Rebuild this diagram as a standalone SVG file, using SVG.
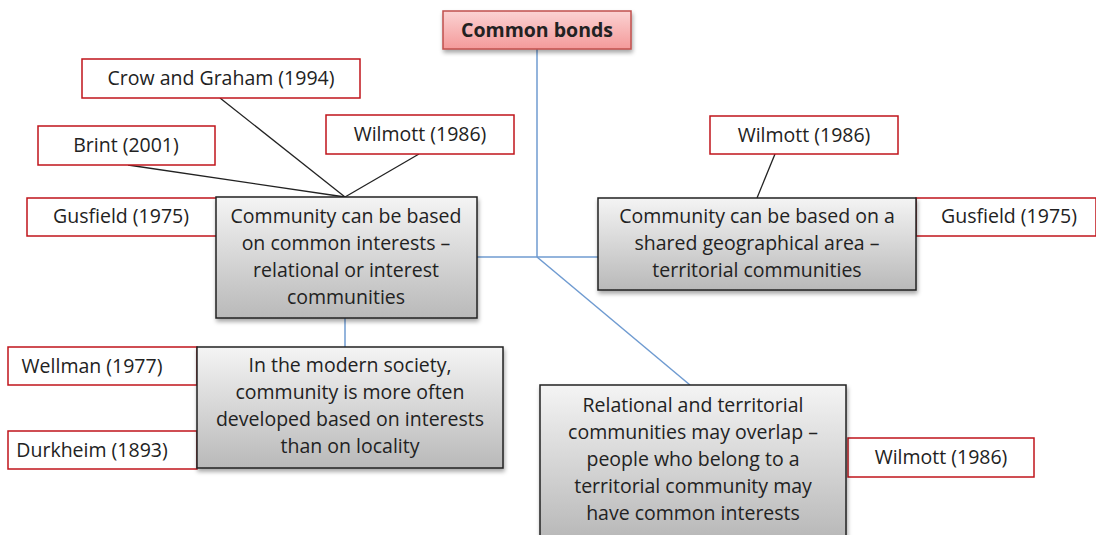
<svg xmlns="http://www.w3.org/2000/svg" width="1096" height="535" viewBox="0 0 1096 535">
<defs>
<linearGradient id="gGray" x1="0" y1="0" x2="0" y2="1">
<stop offset="0" stop-color="#f4f4f4"/>
<stop offset="1" stop-color="#b9b9b9"/>
</linearGradient>
<linearGradient id="gPink" x1="0" y1="0" x2="0" y2="1">
<stop offset="0" stop-color="#fbd3d3"/>
<stop offset="1" stop-color="#f49a9a"/>
</linearGradient>
<filter id="sh" x="-10%" y="-10%" width="120%" height="130%">
<feDropShadow dx="1" dy="3" stdDeviation="2" flood-color="#000" flood-opacity="0.35"/>
</filter>
</defs>
<style>
text{font-family:"Open Sans","Liberation Sans",sans-serif;font-size:19.5px;fill:#222;text-anchor:middle}
.ref{fill:#fff;stroke:#c0151b;stroke-width:1.5}
.main{fill:url(#gGray);stroke:#222;stroke-width:1.5;filter:url(#sh)}
.blue{stroke:#6f9bd1;stroke-width:1.5;fill:none}
.blk{stroke:#222;stroke-width:1.3;fill:none}
</style>
<rect width="1096" height="535" fill="#fff"/>
<g id="connectors">
<line class="blue" x1="537" y1="49" x2="537" y2="257"/>
<line class="blue" x1="477" y1="257" x2="598" y2="257"/>
<line class="blue" x1="537" y1="257" x2="690" y2="385"/>
<line class="blue" x1="345" y1="318" x2="345" y2="347"/>
<line class="blk" x1="220" y1="98" x2="345" y2="197"/>
<line class="blk" x1="128" y1="165" x2="345" y2="197"/>
<line class="blk" x1="419" y1="154" x2="345" y2="197"/>
<line class="blk" x1="775" y1="154" x2="757" y2="198"/>
</g>
<g id="common-bonds">
<rect x="443" y="11" width="188" height="38" fill="url(#gPink)" stroke="#c0504d" stroke-width="1.5" filter="url(#sh)"/>
<text x="537" y="37" style="font-weight:bold">Common bonds</text>
</g>
<g id="crow">
<rect class="ref" x="82" y="59" width="278" height="39"/>
<text x="221" y="85">Crow and Graham (1994)</text>
</g>
<g id="brint">
<rect class="ref" x="38" y="126" width="177" height="39"/>
<text x="126" y="152">Brint (2001)</text>
</g>
<g id="wilmott-left">
<rect class="ref" x="326" y="115" width="188" height="39"/>
<text x="420" y="141">Wilmott (1986)</text>
</g>
<g id="gusfield-left">
<rect class="ref" x="27" y="198" width="190" height="38"/>
<text x="121" y="223">Gusfield (1975)</text>
</g>
<g id="interest">
<rect class="main" x="216" y="197" width="261" height="121"/>
<text x="346" y="223">Community can be based</text>
<text x="346" y="250">on common interests –</text>
<text x="346" y="277">relational or interest</text>
<text x="346" y="304">communities</text>
</g>
<g id="wilmott-right-top">
<rect class="ref" x="710" y="116" width="188" height="38"/>
<text x="804" y="142">Wilmott (1986)</text>
</g>
<g id="gusfield-right">
<rect class="ref" x="916" y="198" width="180" height="38"/>
<text x="1009" y="223">Gusfield (1975)</text>
</g>
<g id="territorial">
<rect class="main" x="598" y="198" width="318" height="92"/>
<text x="757" y="223">Community can be based on a</text>
<text x="757" y="250">shared geographical area –</text>
<text x="757" y="277">territorial communities</text>
</g>
<g id="wellman">
<rect class="ref" x="8" y="347" width="189" height="38"/>
<text x="92" y="373">Wellman (1977)</text>
</g>
<g id="durkheim">
<rect class="ref" x="8" y="431" width="189" height="38"/>
<text x="92" y="457">Durkheim (1893)</text>
</g>
<g id="modern">
<rect class="main" x="197" y="347" width="306" height="121"/>
<text x="350" y="372">In the modern society,</text>
<text x="350" y="399">community is more often</text>
<text x="350" y="426">developed based on interests</text>
<text x="350" y="453">than on locality</text>
</g>
<g id="wilmott-right-bottom">
<rect class="ref" x="848" y="438" width="186" height="39"/>
<text x="941" y="464">Wilmott (1986)</text>
</g>
<g id="overlap">
<rect class="main" x="540" y="385" width="306" height="152"/>
<text x="693" y="412">Relational and territorial</text>
<text x="693" y="439">communities may overlap –</text>
<text x="693" y="466">people who belong to a</text>
<text x="693" y="493">territorial community may</text>
<text x="693" y="520">have common interests</text>
</g>
</svg>
